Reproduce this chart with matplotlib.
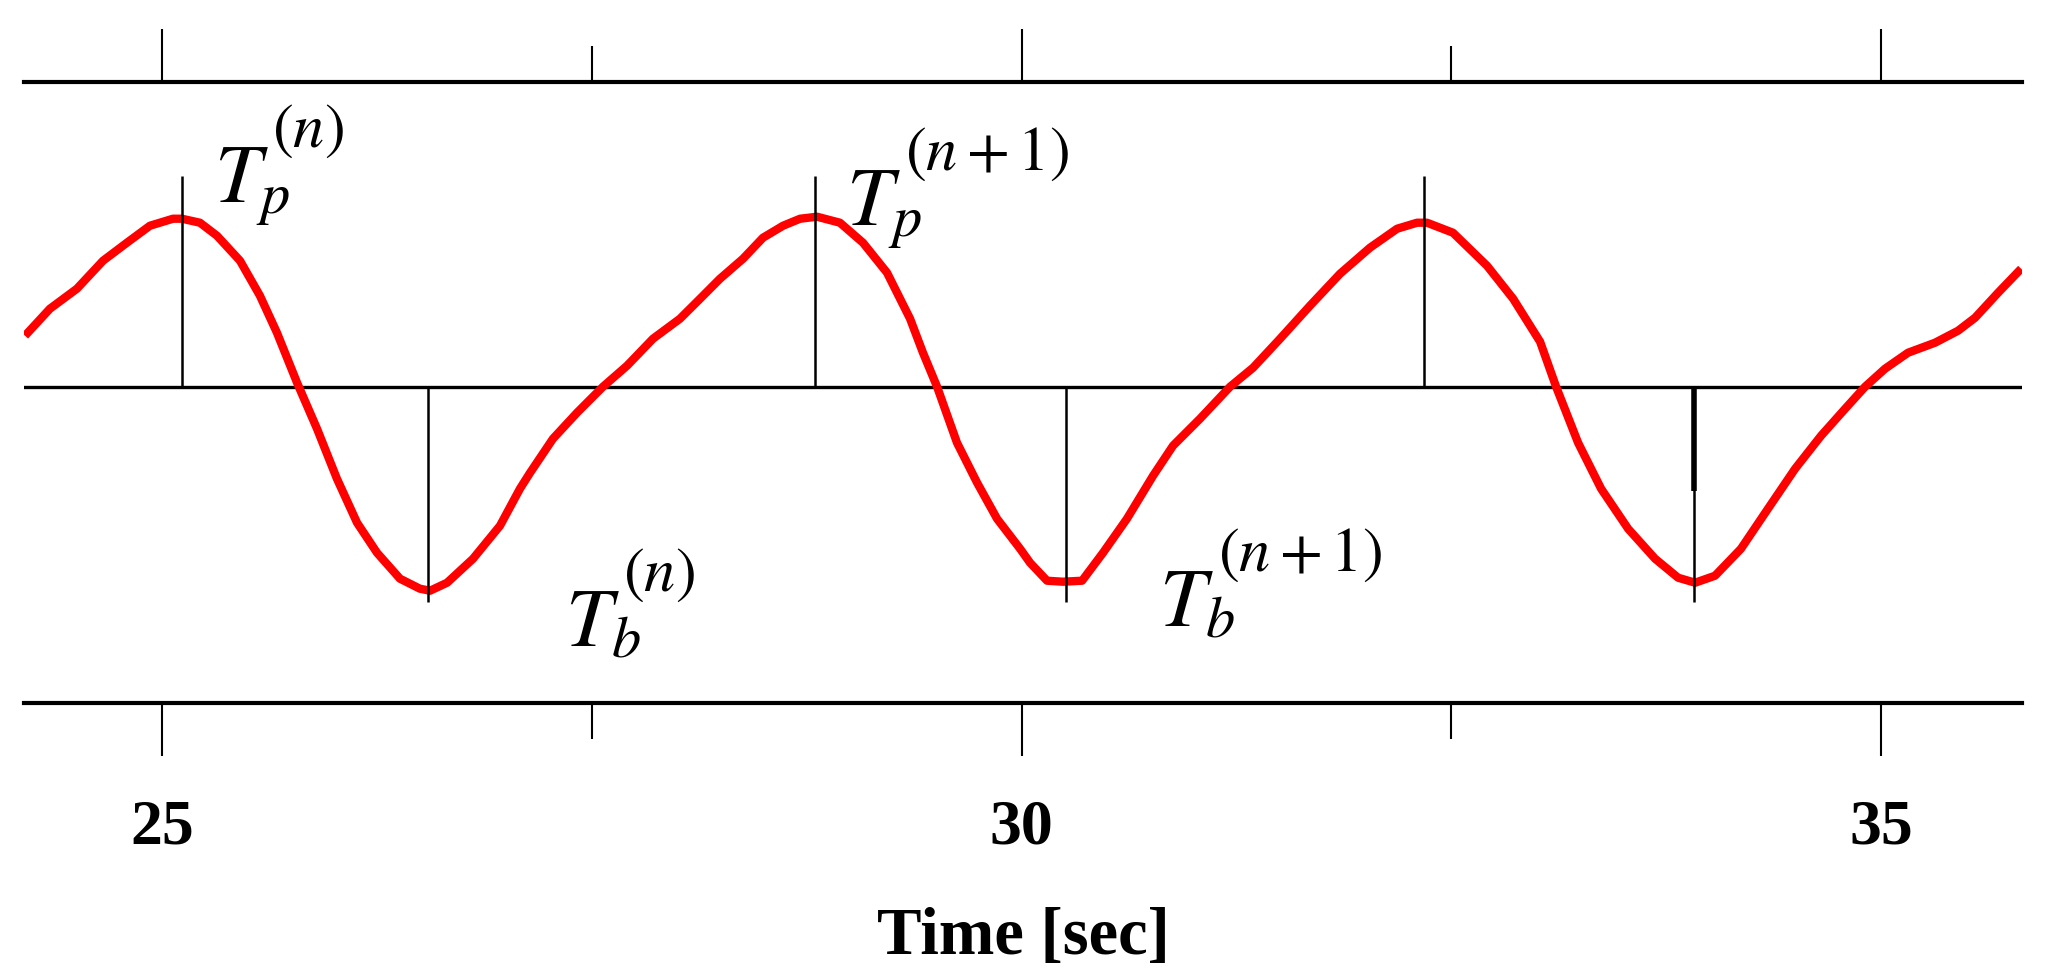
import matplotlib
matplotlib.use("Agg")
import matplotlib.pyplot as plt
from matplotlib.ticker import FixedLocator, FixedFormatter

# ---------------- data ----------------
time_s = [24.200, 24.345, 24.502, 24.654, 24.793, 24.927, 25.061, 25.113, 25.218, 25.317,
          25.451, 25.567, 25.666, 25.783, 25.899, 26.015, 26.132, 26.248, 26.382, 26.498,
          26.557, 26.656, 26.807, 26.964, 27.080, 27.139, 27.272, 27.412, 27.563, 27.703,
          27.854, 28.011, 28.128, 28.244, 28.378, 28.494, 28.611, 28.710, 28.809, 28.942,
          29.076, 29.216, 29.350, 29.425, 29.507, 29.623, 29.740, 29.856, 29.990, 30.048,
          30.147, 30.240, 30.351, 30.473, 30.612, 30.764, 30.880, 31.037, 31.212, 31.346,
          31.503, 31.677, 31.852, 32.026, 32.184, 32.300, 32.358, 32.509, 32.707, 32.859,
          33.016, 33.109, 33.237, 33.371, 33.528, 33.685, 33.819, 33.918, 34.034, 34.185,
          34.342, 34.500, 34.651, 34.791, 34.907, 35.023, 35.157, 35.314, 35.448, 35.547,
          35.681, 35.815]
elevation = [0.51, 0.78, 0.98, 1.26, 1.44, 1.61, 1.68, 1.68, 1.64, 1.51,
             1.26, 0.91, 0.54, 0.04, -0.42, -0.92, -1.36, -1.66, -1.92, -2.02,
             -2.04, -1.96, -1.72, -1.39, -1.02, -0.86, -0.52, -0.26, 0.00, 0.21,
             0.48, 0.68, 0.88, 1.08, 1.28, 1.49, 1.61, 1.68, 1.70, 1.64,
             1.44, 1.14, 0.68, 0.34, 0.00, -0.56, -0.96, -1.32, -1.62, -1.76,
             -1.94, -1.95, -1.94, -1.66, -1.32, -0.89, -0.59, -0.32, 0.00, 0.19,
             0.48, 0.81, 1.13, 1.39, 1.58, 1.64, 1.64, 1.54, 1.21, 0.88,
             0.45, 0.00, -0.56, -1.02, -1.42, -1.72, -1.91, -1.96, -1.89, -1.62,
             -1.22, -0.82, -0.49, -0.22, 0.00, 0.18, 0.34, 0.44, 0.56, 0.69,
             0.94, 1.18]

peak_times = [25.113, 28.797, 32.343]
trough_times = [26.547, 30.256, 33.913]

major_ticks = [25, 30, 35]
major_labels = ["25", "30", "35"]
minor_ticks = [27.5, 32.5]

label_base = [r"$T_p$", r"$T_p$", r"$T_b$", r"$T_b$"]
label_sup = [r"$(n)$", r"$(n+1)$", r"$(n)$", r"$(n+1)$"]
labels_t = [25.30, 28.98, 27.34, 30.80]
labels_v = [1.85, 1.62, -2.59, -2.39]

xlabel = "Time [sec]"

# ---------------- styling ----------------
plt.rcParams["mathtext.fontset"] = "stix"
fig = plt.figure(figsize=(20.48, 9.79), dpi=100)
ax = fig.add_axes([0.01196, 0.2814, 0.97534, 0.6341])
ax.set_xlim(24.197, 35.820)
ax.set_ylim(-3.158, 3.05)

ax.plot(time_s, elevation, color="#ff0000", lw=6, solid_capstyle="butt",
        solid_joinstyle="round", zorder=3)
ax.axhline(0, color="black", lw=2.4, zorder=2)
ax.vlines(peak_times, 0, 2.107, color="black", lw=1.8, zorder=4)
ax.vlines(trough_times, -2.15, 0, color="black", lw=1.8, zorder=4)
ax.vlines([trough_times[-1]], -1.04, 0, color="black", lw=4.0, zorder=4)

for base, sup, t, v in zip(label_base, label_sup, labels_t, labels_v):
    ax.text(t, v, base, fontsize=60, ha="left", va="baseline", color="black", zorder=5)
    ax.annotate(sup, xy=(t, v), xytext=(42, 40), textcoords="offset points",
                fontsize=45, ha="left", va="baseline", color="black", zorder=5)

for side in ["left", "right"]:
    ax.spines[side].set_visible(False)
for side in ["top", "bottom"]:
    ax.spines[side].set_linewidth(3.0)
    ax.spines[side].set_color("black")

ax.xaxis.set_major_locator(FixedLocator(major_ticks))
ax.xaxis.set_major_formatter(FixedFormatter(major_labels))
ax.xaxis.set_minor_locator(FixedLocator(minor_ticks))
ax.tick_params(axis="x", which="both", top=True, bottom=True, direction="out",
               width=1.5, color="black")
ax.tick_params(axis="x", which="major", length=38, pad=31, labelsize=46)
ax.tick_params(axis="x", which="minor", length=26)
for lab in ax.get_xticklabels():
    lab.set_fontfamily("Liberation Serif")
    lab.set_fontweight("bold")
ax.set_yticks([])
ax.set_xlabel(xlabel, fontsize=48, fontfamily="Liberation Serif", fontweight="bold", labelpad=36)

fig.savefig("out.png", dpi=100, facecolor="white")
